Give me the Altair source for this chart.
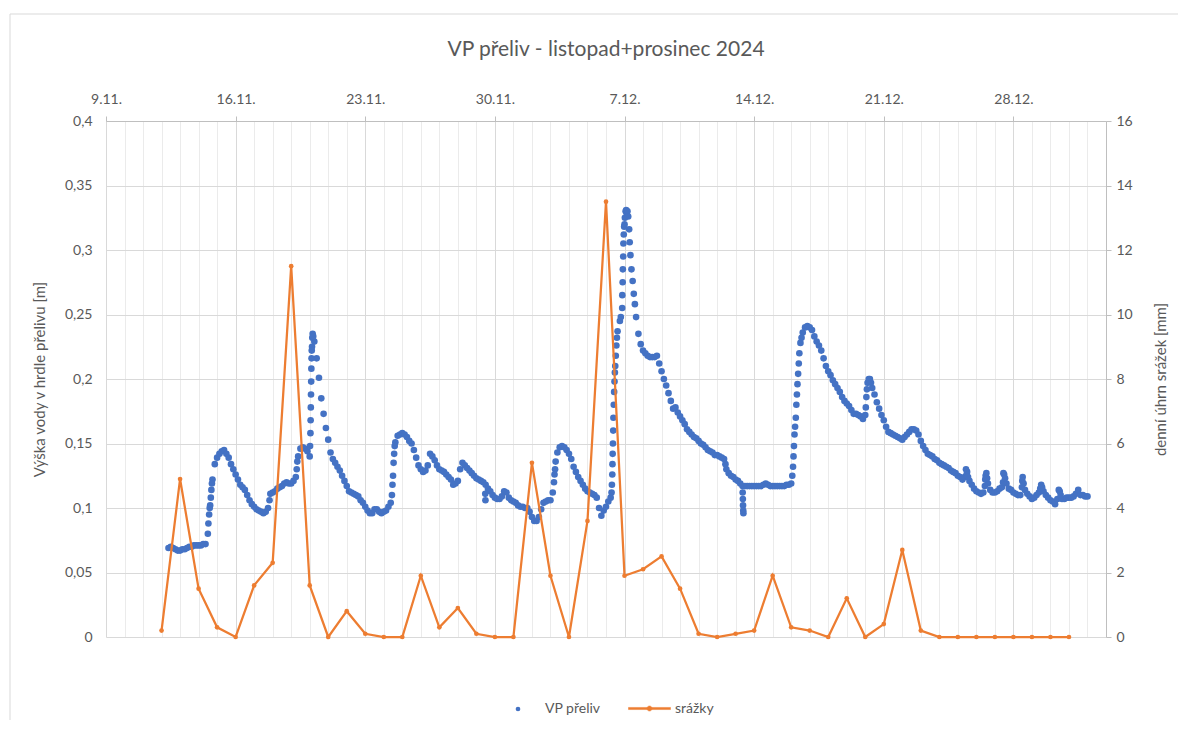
import altair as alt
import pandas as pd

# ---------------- data ----------------
chart_title = "VP přeliv - listopad+prosinec 2024"
left_title = "Výška vody v hrdle přelivu [m]"
right_title = "denní úhrn srážek [mm]"
series_level = "VP přeliv"
series_rain = "srážky"

# water level [m], one reading every 3 hours, first reading 12.11.2024 09:00
level_start = "2024-11-12 09:00"
level_m = [
    0.069, 0.070, 0.069, 0.068, 0.067,
    0.067, 0.068, 0.068, 0.069, 0.070, 0.070, 0.071, 0.071,
    0.071, 0.071, 0.072, 0.072, 0.080, 0.102, 0.122, 0.134,
    0.139, 0.142, 0.144, 0.145, 0.142, 0.139, 0.134, 0.130,
    0.126, 0.122, 0.118, 0.116, 0.114, 0.110, 0.106, 0.103,
    0.101, 0.099, 0.098, 0.097, 0.096, 0.097, 0.100, 0.111,
    0.112, 0.113, 0.115, 0.116, 0.117, 0.119, 0.120, 0.119,
    0.119, 0.121, 0.124, 0.140, 0.146, 0.147, 0.146, 0.144,
    0.140, 0.225, 0.229, 0.216, 0.201, 0.185, 0.173, 0.162,
    0.153, 0.143, 0.138, 0.135, 0.132, 0.129, 0.125, 0.121,
    0.117, 0.113, 0.112, 0.111, 0.110, 0.109, 0.106, 0.104,
    0.101, 0.098, 0.096, 0.096, 0.099, 0.099, 0.097, 0.096,
    0.097, 0.098, 0.101, 0.104, 0.125, 0.151, 0.156, 0.157,
    0.158, 0.157, 0.155, 0.152, 0.150, 0.145, 0.139, 0.133,
    0.130, 0.128, 0.129, 0.133, 0.142, 0.140, 0.137, 0.133,
    0.130, 0.129, 0.128, 0.126, 0.124, 0.122, 0.118, 0.119,
    0.121, 0.130, 0.135, 0.133, 0.131, 0.129, 0.127, 0.125,
    0.123, 0.122, 0.121, 0.120, 0.118, 0.115, 0.113, 0.110,
    0.108, 0.107, 0.107, 0.109, 0.113, 0.112, 0.108, 0.106,
    0.105, 0.104, 0.102, 0.101, 0.101, 0.100, 0.100, 0.097,
    0.093, 0.090, 0.090, 0.093, 0.099, 0.104, 0.105, 0.106,
    0.106, 0.112, 0.130, 0.143, 0.147, 0.148, 0.147, 0.145,
    0.142, 0.138, 0.132, 0.128, 0.124, 0.121, 0.118, 0.115,
    0.113, 0.112, 0.111, 0.110, 0.108, 0.100, 0.094, 0.098,
    0.101, 0.105, 0.108, 0.150, 0.210, 0.237, 0.245, 0.255,
    0.320, 0.328, 0.316, 0.285, 0.266, 0.248, 0.235, 0.227,
    0.222, 0.220, 0.218, 0.217, 0.217, 0.217, 0.218, 0.212,
    0.206, 0.200, 0.195, 0.189, 0.183, 0.177, 0.178, 0.174,
    0.171, 0.168, 0.165, 0.161, 0.159, 0.157, 0.155, 0.154,
    0.152, 0.150, 0.149, 0.147, 0.145, 0.144, 0.143, 0.141,
    0.141, 0.140, 0.139, 0.138, 0.130, 0.127, 0.125, 0.124,
    0.122, 0.121, 0.119, 0.117, 0.117, 0.117, 0.117, 0.117,
    0.117, 0.117, 0.117, 0.117, 0.118, 0.119, 0.118, 0.117,
    0.117, 0.117, 0.117, 0.117, 0.117, 0.117, 0.118, 0.118,
    0.119, 0.140, 0.170, 0.204, 0.228, 0.236, 0.240, 0.241,
    0.240, 0.238, 0.233, 0.229, 0.226, 0.222, 0.216, 0.210,
    0.206, 0.203, 0.199, 0.196, 0.193, 0.190, 0.186, 0.183,
    0.181, 0.179, 0.176, 0.173, 0.173, 0.172, 0.171, 0.169,
    0.172, 0.197, 0.200, 0.193, 0.188, 0.182, 0.177, 0.172,
    0.168, 0.163, 0.159, 0.158, 0.157, 0.156, 0.155, 0.154,
    0.153, 0.155, 0.157, 0.159, 0.161, 0.161, 0.160, 0.157,
    0.152, 0.148, 0.145, 0.142, 0.141, 0.140, 0.138, 0.137,
    0.135, 0.134, 0.133, 0.132, 0.131, 0.129, 0.128, 0.127,
    0.125, 0.124, 0.122, 0.124, 0.128, 0.121, 0.118, 0.115,
    0.113, 0.112, 0.111, 0.112, 0.125, 0.119, 0.114, 0.112,
    0.112, 0.113, 0.115, 0.116, 0.126, 0.119, 0.115, 0.114,
    0.112, 0.111, 0.110, 0.110, 0.124, 0.114, 0.111, 0.109,
    0.107, 0.108, 0.110, 0.112, 0.118, 0.113, 0.110, 0.108,
    0.106, 0.105, 0.103, 0.107, 0.113, 0.107, 0.107, 0.108,
    0.108, 0.108, 0.109, 0.111, 0.114, 0.110, 0.110, 0.109,
    0.109,
]

# extra water-level readings in the steep parts (days after 9.11.2024 00:00)
extra_day = [
    5.53, 5.57, 5.60, 5.66, 5.69, 5.72, 8.83, 10.30, 10.33,
    11.02, 11.04, 11.05, 11.06, 11.07, 11.08, 11.09, 11.10, 11.11, 11.14, 11.16, 11.19,
    15.44, 15.47, 15.53, 15.56, 15.59, 20.48, 20.49, 24.19, 24.22, 24.28,
    27.30, 27.32, 27.34, 27.35, 27.36, 27.39, 27.40, 27.42, 27.44, 27.46, 27.48,
    27.53, 27.56, 27.59, 27.80, 27.88, 27.90, 27.91, 27.93, 27.94, 27.96, 27.98,
    28.02, 28.06, 28.09, 28.16, 28.20, 28.28, 28.32, 28.44, 28.56, 33.45,
    34.38, 34.39, 34.40, 34.41, 34.42,
    37.06, 37.10, 37.15, 37.18, 37.21, 37.28, 37.31, 37.34, 37.41, 37.44, 37.56,
    41.03, 41.06, 41.09, 41.19, 41.31,
    46.44, 46.47, 46.55, 47.46, 47.48, 47.54, 47.58, 48.44, 48.46, 48.55,
    49.46, 49.48, 49.55, 50.45, 50.55, 51.45, 51.55,
]
extra_m = [
    0.088, 0.095, 0.100, 0.108, 0.114, 0.119, 0.106, 0.130, 0.136,
    0.148, 0.158, 0.168, 0.178, 0.188, 0.198, 0.208, 0.216, 0.222, 0.232, 0.235, 0.233,
    0.110, 0.118, 0.135, 0.142, 0.148, 0.111, 0.106, 0.120, 0.126, 0.136,
    0.112, 0.118, 0.126, 0.134, 0.142, 0.160, 0.170, 0.180, 0.190, 0.198, 0.205,
    0.218, 0.226, 0.232, 0.248, 0.265, 0.275, 0.285, 0.295, 0.305, 0.312, 0.318,
    0.325, 0.330, 0.331, 0.330, 0.326, 0.306, 0.296, 0.276, 0.258, 0.134,
    0.112, 0.107, 0.102, 0.098, 0.096,
    0.125, 0.132, 0.148, 0.157, 0.163, 0.180, 0.188, 0.196, 0.212, 0.220, 0.232,
    0.178, 0.186, 0.192, 0.200, 0.197,
    0.130, 0.126, 0.124, 0.117, 0.122, 0.127, 0.123, 0.120, 0.127, 0.123,
    0.116, 0.121, 0.119, 0.115, 0.116, 0.114, 0.110,
]

# daily precipitation [mm], 12.11.2024 .. 31.12.2024
rain_start = "2024-11-12"
rain_mm = [
    0.2, 4.9, 1.5, 0.3, 0.0, 1.6, 2.3, 11.5, 1.6, 0.0,
    0.8, 0.1, 0.0, 0.0, 1.9, 0.3, 0.9, 0.1, 0.0,
    0.0, 5.4, 1.9, 0.0, 3.6, 13.5, 1.9, 2.1, 2.5, 1.5,
    0.1, 0.0, 0.1, 0.2, 1.9, 0.3, 0.2, 0.0, 1.2, 0.0,
    0.4, 2.7, 0.2, 0.0, 0.0, 0.0, 0.0, 0.0, 0.0, 0.0, 0.0,
]

left_ticks = [0, 0.05, 0.1, 0.15, 0.2, 0.25, 0.3, 0.35, 0.4]
right_ticks = [0, 2, 4, 6, 8, 10, 12, 14, 16]

# ---------------- build tables ----------------
DAY_MS = 86400000
base_ms = pd.Timestamp("2024-11-09", tz="UTC").value // 10**6
end_ms = pd.Timestamp("2025-01-02", tz="UTC").value // 10**6
lvl0 = pd.Timestamp(level_start, tz="UTC").value // 10**6
rain0 = pd.Timestamp(rain_start, tz="UTC").value // 10**6

level_t = [lvl0 + i * 3 * 3600 * 1000 for i in range(len(level_m))]
level_t += [int(base_ms + d * DAY_MS) for d in extra_day]
level_df = pd.DataFrame({"t": level_t, "v": level_m + extra_m, "s": series_level})
rain_df = pd.DataFrame({
    "t": [rain0 + i * DAY_MS for i in range(len(rain_mm))],
    "mm": rain_mm,
    "s": series_rain,
})
day_ticks = list(range(base_ms, end_ms + 1, DAY_MS))

# ---------------- styling ----------------
BLUE = "#4472C4"
ORANGE = "#ED7D31"
TXT = "#595959"
GRID = "#d9d9d9"
FONT = "Lato"

week_test = f"(toNumber(datum.value) - {base_ms}) % {7 * DAY_MS} == 0"

x_enc = alt.X(
    "t:T",
    title=None,
    scale=alt.Scale(type="utc", domain=[base_ms, end_ms]),
    axis=alt.Axis(
        orient="top",
        values=day_ticks,
        labelExpr=f"{week_test} ? utcFormat(datum.value, '%-d.%-m.') : ''",
        labelOverlap=False,
        labelFlush=False,
        labelBound=False,
        labelFontSize=14,
        labelColor=TXT,
        labelPadding=10,
        grid=True,
        gridColor={"condition": {"test": week_test, "value": GRID}, "value": "#ebebeb"},
        gridWidth=1,
        ticks=True,
        tickSize=5,
        tickColor="#bfbfbf",
        tickOpacity={"condition": {"test": week_test, "value": 1}, "value": 0},
        domainColor="#bfbfbf",
    ),
)

level_layer = alt.Chart(level_df).mark_circle(size=44, opacity=1).encode(
    x=x_enc,
    y=alt.Y(
        "v:Q",
        scale=alt.Scale(domain=[0, 0.4], nice=False, zero=True),
        axis=alt.Axis(
            orient="left",
            values=left_ticks,
            labelExpr="replace(format(datum.value, '.2~f'), '.', ',')",
            labelFontSize=14,
            labelColor=TXT,
            labelPadding=14,
            grid=True,
            gridColor=GRID,
            domain=False,
            ticks=False,
            title=left_title,
            titleFontSize=15,
            titleFontWeight="normal",
            titleColor=TXT,
            titlePadding=17,
        ),
    ),
    color=alt.Color(
        "s:N",
        scale=alt.Scale(domain=[series_level], range=[BLUE]),
        legend=alt.Legend(
            orient="none", legendX=405, legendY=581, title=None,
            symbolType="circle", symbolSize=22, labelOffset=20,
            labelFontSize=14, labelColor=TXT, labelFont=FONT,
        ),
    ),
)

rain_y = alt.Y(
    "mm:Q",
    scale=alt.Scale(domain=[0, 16], nice=False),
    axis=alt.Axis(
        orient="right",
        values=right_ticks,
        labelFontSize=14,
        labelColor=TXT,
        labelPadding=5,
        grid=False,
        domain=True,
        domainColor="#bfbfbf",
        ticks=True,
        tickSize=5,
        tickColor="#bfbfbf",
        title=right_title,
        titleAngle=270,
        titleFontSize=15,
        titleFontWeight="normal",
        titleColor=TXT,
        titlePadding=36,
    ),
)

rain_line = alt.Chart(rain_df).mark_line(strokeWidth=2.25).encode(
    x=x_enc,
    y=rain_y,
    stroke=alt.Stroke(
        "s:N",
        scale=alt.Scale(domain=[series_rain], range=[ORANGE]),
        legend=alt.Legend(
            orient="none", legendX=522, legendY=566, title=None,
            symbolType="M-1,-0.05L1,-0.05L1,0.05L-1,0.05Z M0.12,0A0.12,0.12 0 1,1 -0.12,0A0.12,0.12 0 1,1 0.12,0Z",
            symbolSize=1764, symbolFillColor=ORANGE, symbolStrokeWidth=0.5,
            labelOffset=4, labelFontSize=14, labelColor=TXT, labelFont=FONT,
        ),
    ),
)
rain_pts = alt.Chart(rain_df).mark_circle(size=22, color=ORANGE, opacity=1).encode(
    x=x_enc,
    y=rain_y,
)
rain_layer = alt.layer(rain_line, rain_pts)

frame = alt.Chart(alt.Data(values=[{"k": 1}])).mark_rect(
    fill=None, fillOpacity=0, stroke="#d9d9d9", strokeWidth=1
).encode(
    x=alt.value(-96), x2=alt.value(1100), y=alt.value(-107), y2=alt.value(700)
)

chart = (
    alt.layer(level_layer, rain_layer, frame)
    .resolve_scale(y="independent", color="independent", stroke="independent")
    .properties(
        width=1000,
        height=516,
        title=alt.TitleParams(
            chart_title, fontSize=21, fontWeight="normal", color=TXT,
            font=FONT, anchor="middle", offset=-46,
        ),
        autosize=alt.AutoSizeParams(type="none"),
        padding={"left": 98, "top": 113, "right": 72, "bottom": 83},
    )
    .configure(font=FONT, background="white")
    .configure_view(stroke=None)
)

chart.save("out.html", embed_options={"renderer": "svg", "actions": False})
